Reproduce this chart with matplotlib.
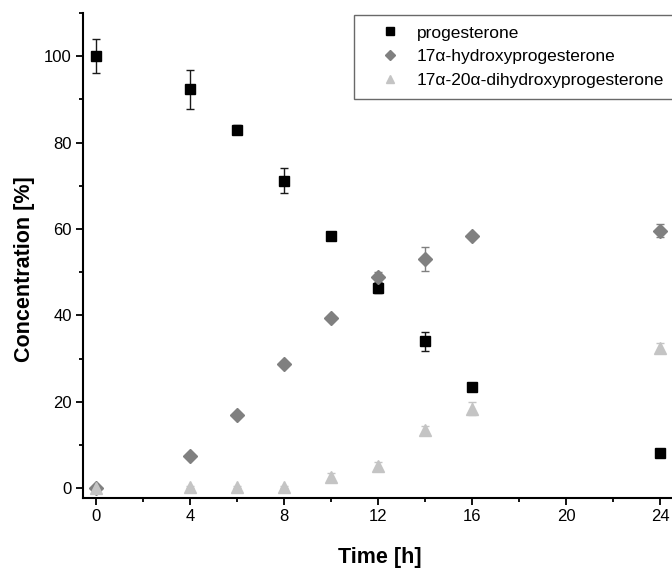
import matplotlib.pyplot as plt
from matplotlib.ticker import MultipleLocator

plt.rcParams['font.family'] = ['Liberation Sans', 'DejaVu Sans']

time_h = [0, 4, 6, 8, 10, 12, 14, 16, 24]

prog = [100, 92.3, 83.0, 71.2, 58.3, 46.4, 34.0, 23.5, 8.2]
prog_err = [4.0, 4.5, 1.0, 2.8, 0.5, 1.2, 2.2, 0.8, 0.5]

ohp = [0, 7.5, 17.0, 28.8, 39.3, 48.8, 53.0, 58.4, 59.6]
ohp_err = [0.5, 0.3, 0.3, 0.3, 0.3, 1.3, 2.8, 0.5, 1.5]

dhp = [0, 0.3, 0.3, 0.3, 2.6, 5.0, 13.4, 18.4, 32.5]
dhp_err = [0.3, 0.2, 0.2, 0.2, 1.0, 1.0, 1.0, 1.5, 1.0]

series = [
    ('progesterone', prog, prog_err, 's', '#000000', '#1a1a1a', 7),
    ('17α-hydroxyprogesterone', ohp, ohp_err, 'D', '#808080', '#808080', 7),
    ('17α-20α-dihydroxyprogesterone', dhp, dhp_err, '^', '#c4c4c4', '#c4c4c4', 8),
]

fig = plt.figure(figsize=(6.72, 5.69), dpi=100)
ax = fig.add_axes([83 / 672, 71 / 569, 1 - 83 / 672, (498 - 13) / 569])

handles = []
for name, y, err, mk, col, ecol, ms in series:
    eb = ax.errorbar(time_h, y, yerr=err, fmt=mk, color=col, mec=col,
                     ecolor=ecol, markersize=ms, capsize=3, elinewidth=1,
                     capthick=1, label=name)
    handles.append(eb[0])

ax.set_xlim(-0.55, 24.51)
ax.set_ylim(-2.3, 110)
ax.xaxis.set_major_locator(MultipleLocator(4))
ax.xaxis.set_minor_locator(MultipleLocator(2))
ax.yaxis.set_major_locator(MultipleLocator(20))
ax.yaxis.set_minor_locator(MultipleLocator(10))

for s in ['top', 'right']:
    ax.spines[s].set_visible(False)
for s in ['left', 'bottom']:
    ax.spines[s].set_linewidth(1.5)

ax.tick_params(which='major', direction='out', length=5, width=1.3, labelsize=12, pad=3)
ax.tick_params(which='minor', direction='out', length=3, width=1.3)

ax.set_xlabel('Time [h]', fontsize=15.5, fontweight='bold')
ax.set_ylabel('Concentration [%]', fontsize=15.5, fontweight='bold')
ax.xaxis.set_label_coords(0.504, -0.1)
ax.yaxis.set_label_coords(-0.082, 0.472)

leg = ax.legend(handles, [s[0] for s in series], loc='upper left',
                bbox_to_anchor=(354 / 672, 1 - 15 / 569),
                bbox_transform=fig.transFigure, fontsize=12.5, frameon=True,
                fancybox=False, borderaxespad=0, handlelength=3,
                handletextpad=0.0, labelspacing=0.5, borderpad=0.6,
                markerscale=0.8)
leg.get_frame().set_edgecolor('#444444')
leg.get_frame().set_linewidth(1)

fig.savefig('out.png', dpi=100)
